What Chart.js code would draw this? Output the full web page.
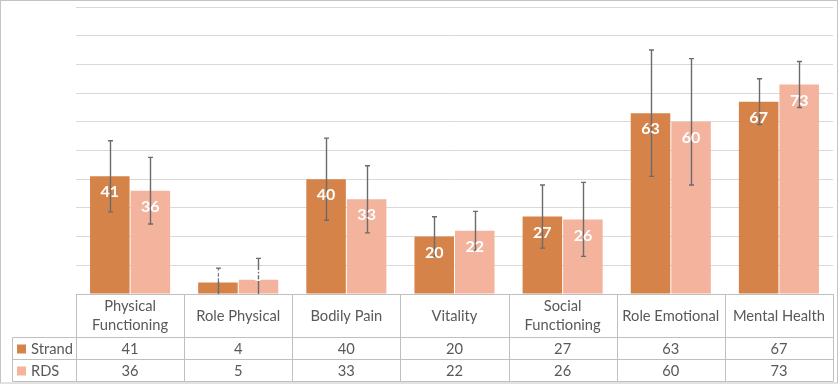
<!DOCTYPE html>
<html>
<head>
<meta charset="utf-8">
<script src="https://cdn.jsdelivr.net/npm/chart.js@4.4.1/dist/chart.umd.min.js"></script>
<style>
  html, body { margin: 0; padding: 0; background: #fff; }
  canvas { display: block; }
</style>
</head>
<body>
<canvas id="sf36Chart" width="840" height="384"></canvas>
<script>
// values
const categories = ["Physical Functioning", "Role Physical", "Bodily Pain", "Vitality",
    "Social Functioning", "Role Emotional", "Mental Health"];
const strandValues = [41, 4, 40, 20, 27, 63, 67];
const rdsValues = [36, 5, 33, 22, 26, 60, 73];
// +/- error amounts (estimated)
const strandErr = [12.4, 5, 14.3, 6.9, 11, 22, 8];
const rdsErr = [11.6, 7.4, 11.7, 6.8, 12.9, 22, 8];
const seriesNames = ["Strand", "RDS"];
const yMax = 100;
const yStep = 10;

const colors = ["#d6834a", "#f3b39c"];
const textColor = "#595959";
const lineColor = "#bfbfbf";
const font = "Lato, 'Open Sans', sans-serif";

const errorBars = {
    id: "errorBars",
    afterDatasetsDraw(chart) {
        const ctx = chart.ctx;
        const y = chart.scales.y;
        const area = chart.chartArea;
        const errs = [strandErr, rdsErr];
        ctx.save();
        ctx.beginPath();
        ctx.rect(area.left, area.top, area.right - area.left, area.bottom - area.top);
        ctx.clip();
        ctx.strokeStyle = "#6b6b6b";
        ctx.lineWidth = 1.4;
        chart.data.datasets.forEach((ds, i) => {
            const meta = chart.getDatasetMeta(i);
            meta.data.forEach((bar, j) => {
                const v = ds.data[j];
                const e = errs[i][j];
                const x = Math.round(bar.x) + 0.5;
                const yt = y.getPixelForValue(v + e);
                const yb = y.getPixelForValue(v - e);
                ctx.beginPath();
                ctx.moveTo(x, yt); ctx.lineTo(x, yb);
                ctx.moveTo(x - 2.5, yt); ctx.lineTo(x + 2.5, yt);
                ctx.moveTo(x - 2.5, yb); ctx.lineTo(x + 2.5, yb);
                ctx.stroke();
            });
        });
        ctx.restore();
    }
};

const barLabels = {
    id: "barLabels",
    afterDatasetsDraw(chart) {
        const ctx = chart.ctx;
        const area = chart.chartArea;
        ctx.save();
        ctx.beginPath();
        ctx.rect(area.left, area.top, area.right - area.left, area.bottom - area.top);
        ctx.clip();
        ctx.fillStyle = "#ffffff";
        ctx.font = "bold 16px " + font;
        ctx.textAlign = "center";
        ctx.textBaseline = "middle";
        chart.data.datasets.forEach((ds, i) => {
            chart.getDatasetMeta(i).data.forEach((bar, j) => {
                const ly = Math.min(bar.y + 16, area.bottom - 18);
                ctx.fillText(String(ds.data[j]), bar.x, ly);
            });
        });
        ctx.restore();
    }
};

function wrapText(ctx, text, maxW) {
    const words = text.split(" ");
    const lines = [];
    let cur = "";
    words.forEach(w => {
        const t = cur ? cur + " " + w : w;
        if (cur && ctx.measureText(t).width > maxW) {
            lines.push(cur);
            cur = w;
        } else {
            cur = t;
        }
    });
    if (cur) lines.push(cur);
    return lines;
}

const dataTable = {
    id: "dataTable",
    afterDraw(chart) {
        const ctx = chart.ctx;
        const area = chart.chartArea;
        const n = categories.length;
        const colW = (area.right - area.left) / n;
        const top = Math.round(area.bottom) + 0.5;
        const headBottom = 337.5;
        const row1Bottom = 359.5;
        const row2Bottom = 381.5;
        const legLeft = 12.5;
        const left = Math.round(area.left) + 0.5;
        const right = Math.round(area.right) + 0.5;

        ctx.save();
        ctx.strokeStyle = lineColor;
        ctx.lineWidth = 1;
        ctx.beginPath();
        ctx.moveTo(left, top); ctx.lineTo(right, top);
        [headBottom, row1Bottom, row2Bottom].forEach(yy => {
            ctx.moveTo(legLeft, yy); ctx.lineTo(right, yy);
        });
        ctx.moveTo(legLeft, headBottom); ctx.lineTo(legLeft, row2Bottom);
        for (let i = 0; i <= n; i++) {
            const x = Math.round(area.left + i * colW) + 0.5;
            ctx.moveTo(x, top); ctx.lineTo(x, row2Bottom);
        }
        ctx.stroke();

        ctx.fillStyle = textColor;
        ctx.font = "14.7px " + font;
        ctx.textAlign = "center";
        ctx.textBaseline = "middle";
        const headMid = (top + headBottom) / 2;
        categories.forEach((c, i) => {
            const cx = area.left + (i + 0.5) * colW;
            const lines = wrapText(ctx, c, colW - 6);
            const lh = 19;
            lines.forEach((ln, k) => {
                ctx.fillText(ln, cx, headMid + (k - (lines.length - 1) / 2) * lh);
            });
        });
        const rows = [strandValues, rdsValues];
        const mids = [(headBottom + row1Bottom) / 2, (row1Bottom + row2Bottom) / 2];
        rows.forEach((vals, r) => {
            vals.forEach((v, i) => {
                ctx.fillText(String(v), area.left + (i + 0.5) * colW, mids[r] + 0.5);
            });
            ctx.fillStyle = colors[r];
            ctx.fillRect(17, mids[r] - 4, 9, 9);
            ctx.fillStyle = textColor;
            ctx.textAlign = "left";
            ctx.fillText(seriesNames[r], 31, mids[r] + 0.5);
            ctx.textAlign = "center";
        });

        // outer frame
        ctx.strokeStyle = "#c4c4c4";
        ctx.strokeRect(0.5, 0.5, 837, 382.5);
        ctx.restore();
    }
};

new Chart(document.getElementById("sf36Chart"), {
    type: "bar",
    data: {
        labels: categories,
        datasets: [
            {
                label: seriesNames[0],
                data: strandValues,
                backgroundColor: colors[0],
                barPercentage: 0.975,
                categoryPercentage: 0.75
            },
            {
                label: seriesNames[1],
                data: rdsValues,
                backgroundColor: colors[1],
                barPercentage: 0.975,
                categoryPercentage: 0.75
            }
        ]
    },
    options: {
        responsive: false,
        animation: false,
        layout: { padding: { left: 76, right: 7, top: 7, bottom: 90 } },
        plugins: {
            legend: { display: false },
            tooltip: { enabled: false }
        },
        scales: {
            x: {
                grid: { display: false },
                ticks: { display: false },
                border: { display: false },
                afterFit: s => { s.height = 0; }
            },
            y: {
                min: 0,
                max: yMax,
                ticks: { display: false, stepSize: yStep },
                grid: { color: "#d9d9d9", lineWidth: 1, drawTicks: false },
                border: { display: false },
                afterFit: s => { s.width = 0; }
            }
        }
    },
    plugins: [errorBars, barLabels, dataTable]
});
</script>
</body>
</html>
